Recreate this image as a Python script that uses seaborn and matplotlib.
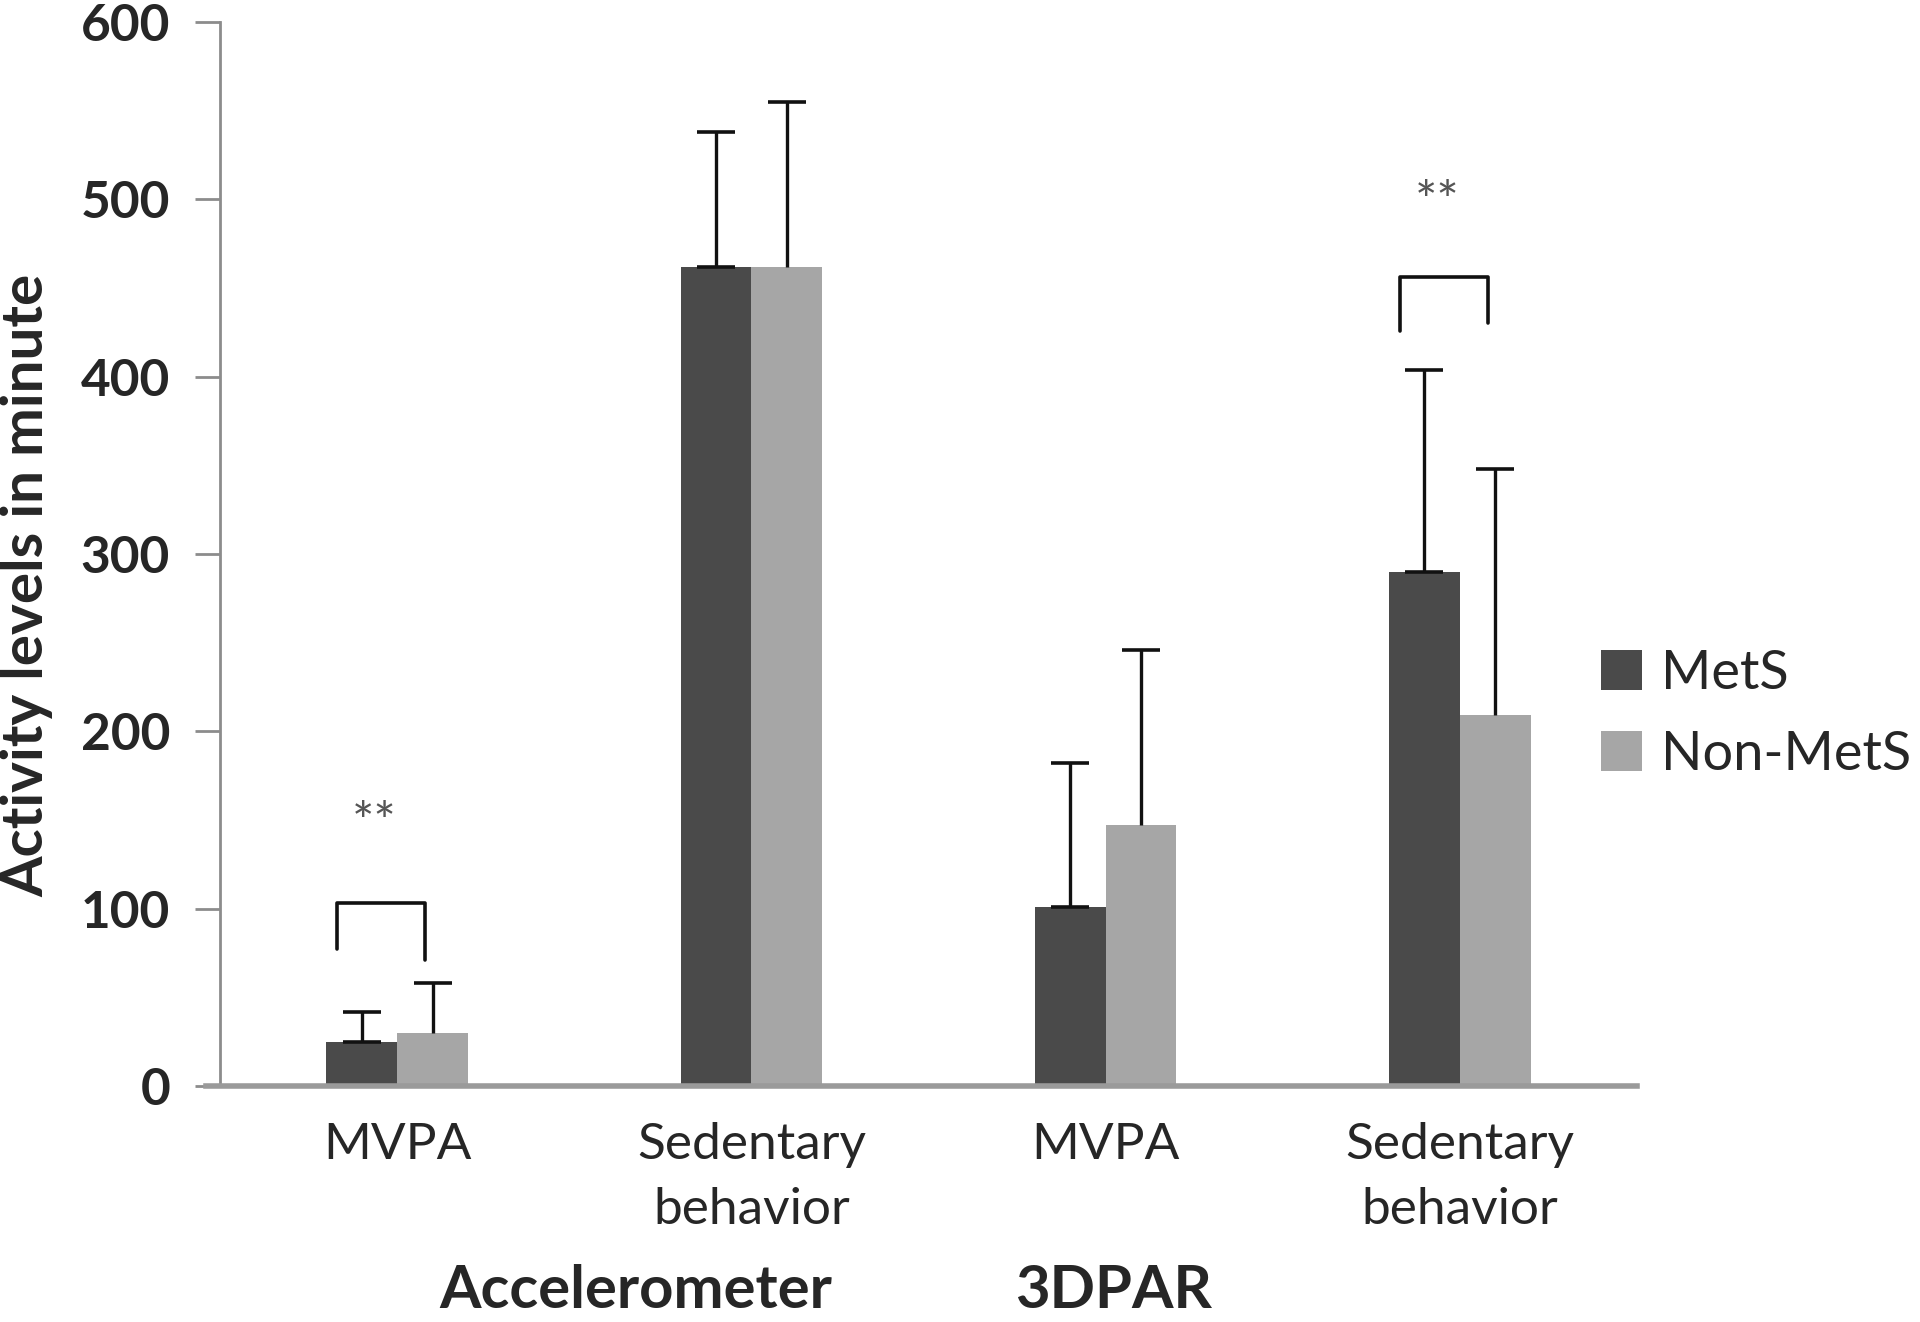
import numpy as np
import pandas as pd
import matplotlib
matplotlib.use('Agg')
import matplotlib.pyplot as plt
import seaborn as sns

# 数据
cat_keys = ['acc_mvpa', 'acc_sed', 'par_mvpa', 'par_sed']
tick_labels = ['MVPA', 'Sedentary\nbehavior', 'MVPA', 'Sedentary\nbehavior']
groups = ['MetS', 'Non-MetS']
mets_mean = [25, 462, 101, 290]
mets_err = [17, 76, 81, 114]
non_mean = [30, 462, 147, 209]
non_err = [28, 93, 99, 139]
group_labels = ['Accelerometer', '3DPAR']
yticks = [0, 100, 200, 300, 400, 500, 600]

# 显著性标记：(类别序号, 横线高度, 左脚底, 右脚底, 星号高度)
sig_marks = [(0, 103, 77, 71, 147), (3, 456, 426, 430, 497)]

sns.set_theme(style='white')
plt.rcParams['font.family'] = ['Lato', 'DejaVu Sans']

df = pd.DataFrame({
    'cat': cat_keys * 2,
    'group': [groups[0]] * 4 + [groups[1]] * 4,
    'value': mets_mean + non_mean,
})
errs = {groups[0]: mets_err, groups[1]: non_err}

fig = plt.figure(figsize=(19.2, 13.22), dpi=100)
ax = fig.add_axes([0.1146, 0.1785, 0.7380, 0.8049])

sns.barplot(data=df, x='cat', y='value', hue='group', order=cat_keys,
            hue_order=groups, palette=['#4a4a4a', '#a6a6a6'],
            width=0.4, saturation=1, errorbar=None, linewidth=0,
            ax=ax, legend=True)

# 误差线（只向上）
for cont, g in zip(ax.containers, groups):
    xs = [b.get_x() + b.get_width() / 2 for b in cont]
    hs = [b.get_height() for b in cont]
    e = errs[g]
    line, caps, bars = ax.errorbar(xs, hs, yerr=[np.zeros(len(e)), e], fmt='none',
                                   ecolor='#111111', elinewidth=2.4, capsize=14,
                                   capthick=2.6)
    if g == 'Non-MetS' and len(caps) > 1:
        caps[0].set_visible(False)

# 显著性括号
for i, top, l_low, r_low, star_y in sig_marks:
    xl = i - 0.17
    xr = i + 0.08
    ax.plot([xl, xl, xr, xr], [l_low, top, top, r_low], color='#111111', lw=2.6,
            solid_joinstyle='round')
    ax.text((xl + xr) / 2 - 0.02, star_y, '**', ha='center', va='center',
            fontsize=38, color='#555555')

ax.set_xlim(-0.5, 3.5)
ax.set_ylim(0, 600)
ax.set_yticks(yticks)
ax.set_yticklabels([str(t) for t in yticks], fontsize=37, fontweight='bold')
ax.set_xticks(range(4))
ax.set_xticklabels(tick_labels, fontsize=37, linespacing=1.5)
ax.tick_params(axis='y', length=18, width=2, color='#8c8c8c', pad=18, left=True)
ax.tick_params(axis='x', length=0, pad=26)
ax.set_xlabel('')
ax.set_ylabel('')

for s in ['top', 'right']:
    ax.spines[s].set_visible(False)
ax.spines['left'].set_color('#8c8c8c')
ax.spines['left'].set_linewidth(2)
ax.spines['bottom'].set_color('#9a9a9a')
ax.spines['bottom'].set_linewidth(4)
ax.spines['bottom'].set_bounds(-0.54, 3.5)

fig.text(0.014, 0.557, 'Activity levels in minute', rotation=90, ha='center',
         va='center', fontsize=42, fontweight='bold')
fig.text(0.331, 0.003, group_labels[0], ha='center', va='bottom', fontsize=43,
         fontweight='bold')
fig.text(0.580, 0.003, group_labels[1], ha='center', va='bottom', fontsize=43,
         fontweight='bold')

ax.get_legend().remove()
handles, labels = ax.get_legend_handles_labels()
fig.legend(handles, labels, loc='center left', bbox_to_anchor=(0.834, 0.46),
           frameon=False, fontsize=39, handlelength=0.75, handleheight=0.75,
           handletextpad=0.35, labelspacing=0.6, borderaxespad=0, borderpad=0)

fig.savefig('out.png', dpi=100)
